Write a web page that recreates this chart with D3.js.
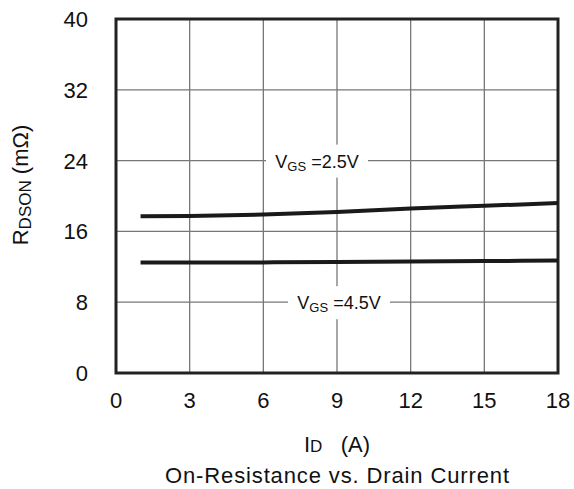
<!DOCTYPE html>
<html>
<head>
<meta charset="utf-8">
<script src="https://cdn.jsdelivr.net/npm/d3@7"></script>
<style>
  body { margin: 0; background: #fff; }
  text { font-family: "Liberation Sans", Arial, sans-serif; fill: #111; }
</style>
</head>
<body>
<div id="chart"></div>
<script>
// data
var xTicks = [0, 3, 6, 9, 12, 15, 18];
var yTicks = [0, 8, 16, 24, 32, 40];
var current = [1, 3, 6, 9, 12, 15, 18];
var rds25 = [17.7, 17.75, 17.9, 18.2, 18.6, 18.9, 19.2];
var rds45 = [12.5, 12.5, 12.5, 12.55, 12.6, 12.65, 12.7];

var margin = {top: 19, right: 16, bottom: 116, left: 116},
  width = 574 - margin.left - margin.right,
  height = 489 - margin.top - margin.bottom;

var svg = d3.select("#chart")
  .append("svg")
    .attr("width", 574)
    .attr("height", 489)
  .append("g")
    .attr("transform", "translate(" + margin.left + "," + margin.top + ")");

var x = d3.scaleLinear().domain([0, 18]).range([0, width]);
var y = d3.scaleLinear().domain([0, 40]).range([height, 0]);

// grid
svg.selectAll("vgrid")
  .data(xTicks.slice(1, -1))
  .enter()
  .append("line")
    .attr("x1", function(d){ return x(d) }).attr("x2", function(d){ return x(d) })
    .attr("y1", 0).attr("y2", height)
    .style("stroke", "#777").style("stroke-width", 1.3);

svg.selectAll("hgrid")
  .data(yTicks.slice(1, -1))
  .enter()
  .append("line")
    .attr("x1", 0).attr("x2", width)
    .attr("y1", function(d){ return y(d) }).attr("y2", function(d){ return y(d) })
    .style("stroke", "#777").style("stroke-width", 1.3);

// frame
svg.append("rect")
  .attr("x", 0).attr("y", 0)
  .attr("width", width).attr("height", height)
  .style("fill", "none").style("stroke", "#222").style("stroke-width", 3);

// tick labels
svg.selectAll("xt")
  .data(xTicks)
  .enter()
  .append("text")
    .attr("x", function(d){ return x(d) })
    .attr("y", height + 35)
    .attr("text-anchor", "middle")
    .attr("font-size", "22px")
    .text(function(d){ return d });

svg.selectAll("yt")
  .data(yTicks)
  .enter()
  .append("text")
    .attr("x", -28)
    .attr("y", function(d){ return y(d) + 8 })
    .attr("text-anchor", "end")
    .attr("font-size", "22px")
    .text(function(d){ return d });

// curves
var line = d3.line()
  .x(function(d){ return x(d[0]) })
  .y(function(d){ return y(d[1]) })
  .curve(d3.curveMonotoneX);

[rds25, rds45].forEach(function(s) {
  svg.append("path")
    .datum(current.map(function(c, i){ return [c, s[i]] }))
    .attr("d", line)
    .style("fill", "none")
    .style("stroke", "#1a1a1a")
    .style("stroke-width", 4);
});

// curve labels with white background over the grid
function vgsLabel(cx, yv, val) {
  svg.append("rect")
    .attr("x", cx - 51).attr("y", y(yv) - 16)
    .attr("width", 102).attr("height", 33)
    .style("fill", "#fff");
  var t = svg.append("text")
    .attr("x", cx).attr("y", y(yv) + 7)
    .attr("text-anchor", "middle")
    .attr("font-size", "18px");
  t.append("tspan").text("V");
  t.append("tspan").attr("font-size", "13px").attr("dy", 3).text("GS");
  t.append("tspan").attr("dy", -3).text(" =" + val);
}
vgsLabel(201, 24, "2.5V");
vgsLabel(223, 8, "4.5V");

// axis titles
var xt = svg.append("text")
  .attr("x", width / 2)
  .attr("y", height + 79)
  .attr("text-anchor", "middle")
  .attr("font-size", "22px");
xt.append("tspan").text("I");
xt.append("tspan").attr("font-size", "17px").text("D");
xt.append("tspan").attr("xml:space", "preserve").text("   (A)");

svg.append("text")
  .attr("x", width / 2)
  .attr("y", height + 110)
  .attr("text-anchor", "middle")
  .attr("font-size", "22px")
  .attr("textLength", 344)
  .attr("lengthAdjust", "spacing")
  .text("On-Resistance vs. Drain Current");

var yt = svg.append("text")
  .attr("transform", "translate(-88," + (height / 2 - 11) + ") rotate(-90)")
  .attr("text-anchor", "middle")
  .attr("font-size", "22px");
yt.append("tspan").text("R");
yt.append("tspan").attr("font-size", "17px").attr("dy", 3).text("DSON");
yt.append("tspan").attr("dy", -3).text(" (m\u03A9)");
</script>
</body>
</html>
